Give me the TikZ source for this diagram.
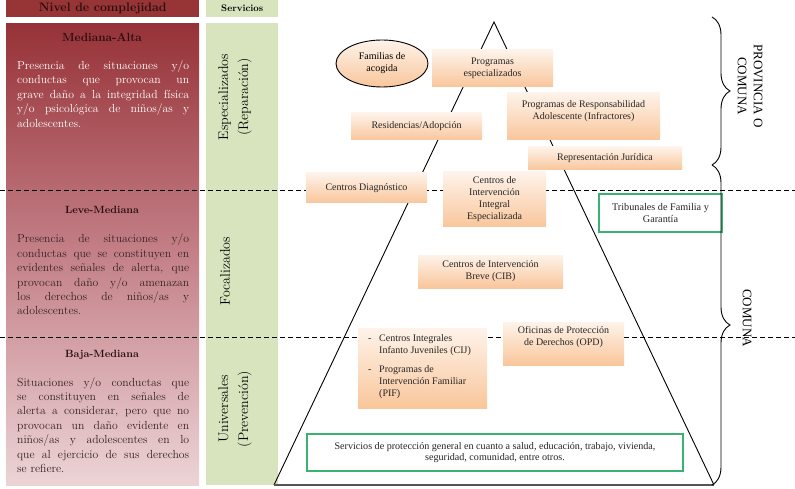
\documentclass[tikz,border=0pt]{standalone}
\usepackage{fontspec}
\newfontfamily\tnr{Liberation Serif}
\usetikzlibrary{shapes.geometric,decorations.pathreplacing,calc}
\definecolor{hdrred}{RGB}{150,52,54}
\definecolor{redtop}{RGB}{150,50,55}
\definecolor{redmid}{RGB}{196,128,136}
\definecolor{redbot}{RGB}{236,212,214}
\definecolor{colgreen}{RGB}{215,228,189}
\definecolor{peachtop}{RGB}{254,243,234}
\definecolor{peachbot}{RGB}{249,198,155}
\definecolor{boxgreen}{RGB}{60,178,112}
\definecolor{darktxt}{RGB}{40,14,14}
\definecolor{bodytxt}{RGB}{52,34,34}
\definecolor{basegray}{RGB}{85,85,85}
\newcommand\bodytext[1]{\parbox[t]{172pt}{\hyphenpenalty=10000 \tolerance=9999 \parindent=0pt #1\par}}
\tikzset{
  obox/.style={inner sep=1pt, top color=peachtop, bottom color=peachbot, align=center,
    text=black!85, font=\tnr\fontsize{10}{12}\selectfont},
  gbox/.style={draw=boxgreen, line width=1.2pt, fill=white, align=center, inner sep=1pt,
    text=black!85, font=\tnr\fontsize{10.2}{12}\selectfont},
  btext/.style={align=center, inner sep=0pt, text=black!85, font=\tnr\fontsize{10}{12}\selectfont},
  dashline/.style={line width=0.9pt, dash pattern=on 4.5pt off 3.5pt},
  tri/.style={line width=0.9pt},
  bodypar/.style={inner sep=0pt, anchor=base west, font=\fontsize{11.7}{14.4}\selectfont},
  ltitle/.style={inner sep=0pt, text=darktxt, font=\bfseries},
  coltext/.style={inner sep=0pt, align=center, text=black, font=\fontsize{14}{20}\selectfont},
  bracestyle/.style={line width=0.9pt, decorate, decoration={brace, amplitude=18pt}},
}
\begin{document}
\begin{tikzpicture}[x=1pt,y=-1pt]
\useasboundingbox (0,0) rectangle (795,489);
% left column
\node[fill=hdrred, minimum width=193pt, minimum height=17pt, inner sep=0pt, anchor=north west,
  text=darktxt, font=\bfseries\fontsize{12.3}{14}\selectfont] (hdr) at (6,0) {Nivel de complejidad};
\node[top color=redtop, bottom color=redbot, middle color=redmid, minimum width=193pt,
  minimum height=462pt, inner sep=0pt, anchor=north west] (lbox) at (6,23) {};
% services column
\node[fill=colgreen, minimum width=72pt, minimum height=17pt, inner sep=0pt, anchor=north west,
  font=\bfseries\fontsize{9.5}{11}\selectfont] (shdr) at (206,0) {Servicios};
\node[fill=colgreen, minimum width=72pt, minimum height=462pt, inner sep=0pt, anchor=north west] (scol) at (206,23) {};
% dashed separators
\coordinate (d1a) at (0,190); \coordinate (d1b) at (795,190);
\coordinate (d2a) at (0,337); \coordinate (d2b) at (795,337);
\draw[dashline] (d1a) -- (d1b);
\draw[dashline] (d2a) -- (d2b);
% triangle
\coordinate (apex) at (494,22);
\coordinate (bl) at (274,485);
\coordinate (br) at (714,485);
\draw[tri] (bl) -- (apex) -- (br);
\draw[line width=2.4pt, basegray] (bl) -- (br);
% left texts
\node[ltitle, font=\bfseries\fontsize{11.8}{14}\selectfont] (t1) at (102,37) {Mediana-Alta};
\node[bodypar, text=white] (p1) at (17,69.5) {\bodytext{Presencia de situaciones y/o\linebreak conductas que provocan un\linebreak grave daño a la integridad física\linebreak y/o psicológica de niños/as y\linebreak adolescentes.}};
\node[ltitle, font=\bfseries\fontsize{10.5}{13}\selectfont] (t2) at (102,210) {Leve-Mediana};
\node[bodypar, text=bodytxt] (p2) at (17,243) {\bodytext{Presencia de situaciones y/o\linebreak conductas que se constituyen en\linebreak evidentes señales de alerta, que\linebreak provocan daño y/o amenazan\linebreak los derechos de niños/as y\linebreak adolescentes.}};
\node[ltitle, font=\bfseries\fontsize{10.5}{13}\selectfont] (t3) at (102,355) {Baja-Mediana};
\node[bodypar, text=bodytxt] (p3) at (17,386) {\bodytext{Situaciones y/o conductas que\linebreak se constituyen en señales de\linebreak alerta a considerar, pero que no\linebreak provocan un daño evidente en\linebreak niños/as y adolescentes en lo\linebreak que al ejercicio de sus derechos\linebreak se refiere.}};
% column texts
\node[coltext, rotate=90] (c1) at (235,97) {Especializados\\(Reparación)};
\node[coltext, rotate=90] (c2) at (225,271) {Focalizados};
\node[coltext, rotate=90] (c3) at (235,409) {Universales\\(Prevención)};
% pyramid boxes
\node[ellipse, draw, line width=0.9pt, top color=peachtop, bottom color=peachbot, minimum width=92pt,
  minimum height=47pt, inner sep=0pt, align=center, font=\tnr\fontsize{10}{12}\selectfont] (fam) at (382,63.5) {Familias de\\acogida};
\node[obox, minimum width=121pt, minimum height=37pt] (pe) at (492.5,68.5) {Programas\\especializados};
\node[obox, minimum width=131pt, minimum height=27pt] (res) at (416.5,126.5) {Residencias/Adopción};
\node[obox, minimum width=153pt, minimum height=47pt] (pra) at (583.5,116.5) {};
\node[btext] (prat) at (583.5,111) {Programas de Responsabilidad\\Adolescente (Infractores)};
\node[obox, minimum width=154pt, minimum height=23pt] (rj) at (605,158.5) {Representación Jurídica};
\node[obox, minimum width=121pt, minimum height=30pt] (cd) at (366.5,188) {Centros Diagnóstico};
\node[obox, minimum width=103pt, minimum height=55pt] (ciie) at (494.5,199.5) {Centros de\\Intervención\\Integral\\Especializada};
\node[obox, minimum width=145pt, minimum height=33pt] (cib) at (490.5,271.5) {Centros de Intervención\\Breve (CIB)};
\node[obox, minimum width=129pt, minimum height=80pt] (cij) at (422.5,368) {};
\node[btext, align=left, anchor=north west] (cijt) at (368,334.5) {\makebox[11pt][l]{-}Centros Integrales\\
\hspace*{11pt}Infanto Juveniles (CIJ)\\[7pt]
\makebox[11pt][l]{-}Programas de\\
\hspace*{11pt}Intervención Familiar\\
\hspace*{11pt}(PIF)};
\node[obox, minimum width=121pt, minimum height=43pt] (opd) at (563.5,343.5) {};
\node[btext] (opdt) at (563.5,337) {Oficinas de Protección\\de Derechos (OPD)};
\node[gbox, minimum width=123pt, minimum height=38pt] (trib) at (660.5,213) {Tribunales de Familia y\\Garantía};
\node[gbox, minimum width=376pt, minimum height=37pt, font=\tnr\fontsize{10.1}{11.2}\selectfont] (serv) at (495,452.5) {Servicios de protección general en cuanto a salud, educación, trabajo, vivienda,\\seguridad, comunidad, entre otros.};
% braces
\coordinate (b1a) at (712,17); \coordinate (b1b) at (712,165);
\coordinate (b2a) at (712,165); \coordinate (b2b) at (712,485);
\draw[bracestyle] (b1a) -- (b1b);
\draw[bracestyle] (b2a) -- (b2b);
\node[rotate=-90, align=center, inner sep=0pt, font=\tnr\fontsize{13}{16}\selectfont] (prov) at (750,86) {PROVINCIA O\\COMUNA};
\node[rotate=-90, inner sep=0pt, font=\tnr\fontsize{13}{16}\selectfont] (com) at (747,318) {COMUNA};
\end{tikzpicture}
\end{document}
